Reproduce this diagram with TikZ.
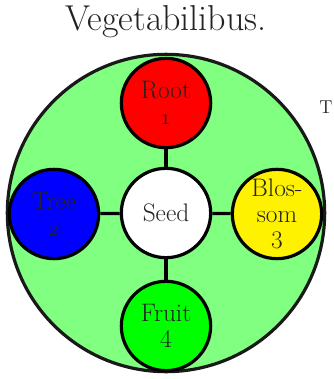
\documentclass[tikz,border=0pt]{standalone}
\usepackage{xcolor}
\definecolor{bgreen}{RGB}{128,255,128}
\definecolor{txt}{RGB}{35,35,35}
\definecolor{edge}{RGB}{25,25,25}
\begin{document}
\begin{tikzpicture}[x=0.75pt,y=-0.75pt,
  part/.style={circle,draw=black,line width=2.4pt,minimum size=67pt,inner sep=0pt,
    text=txt,font=\fontsize{19}{19.5}\selectfont,align=center},
  link/.style={line width=2.4pt,draw=black}]
\useasboundingbox (0,0) rectangle (333,379);
\node[font=\fontsize{27}{27}\selectfont,text=txt] (title) at (166,22) {Vegetabilibus.};
\node[circle,draw=edge,line width=2.4pt,fill=bgreen,minimum size=238pt,inner sep=0pt] (big) at (166,213) {};
\node[part,fill=white] (seed) at (166,213) {Seed};
\node[part,fill=red] (root) at (166,103) {Root\\\oldstylenums{1}};
\node[part,fill=blue] (tree) at (54,214) {Tree\\\oldstylenums{2}};
\node[part,fill=yellow] (blossom) at (277,214) {Blos-\\som\\3};
\node[part,fill=green] (fruit) at (166,326) {Fruit\\4};
\draw[link] (seed) -- (root);
\draw[link] (seed) -- (tree);
\draw[link] (seed) -- (blossom);
\draw[link] (seed) -- (fruit);
\node[anchor=west,font=\fontsize{14}{14}\selectfont,text=txt,inner sep=0pt] (t) at (319,107) {T};
\end{tikzpicture}
\end{document}
